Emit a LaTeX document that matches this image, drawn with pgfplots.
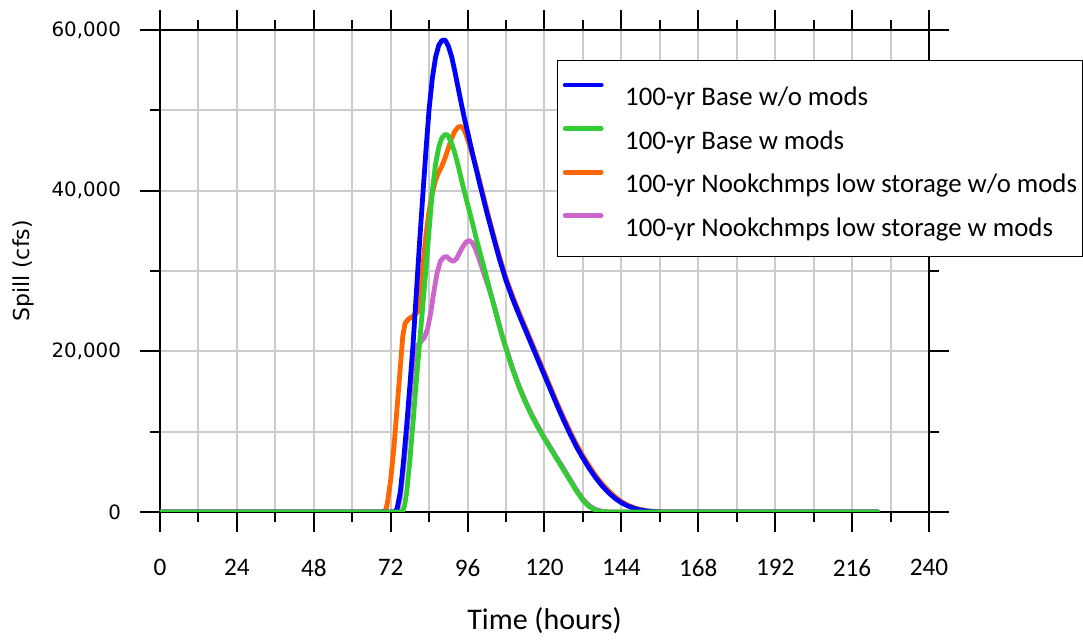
\documentclass[border=0pt]{standalone}
\usepackage{pgfplots}
\pgfplotsset{compat=1.18}
\usepackage{fontspec}
\setmainfont{Carlito}
\newfontfamily\dejavu{DejaVu Sans}
\definecolor{cblue}{RGB}{0,0,255}
\definecolor{cgreen}{RGB}{50,205,50}
\definecolor{corange}{RGB}{255,102,0}
\definecolor{cpurple}{RGB}{204,102,204}
\definecolor{cgrid}{RGB}{204,204,204}
\begin{document}
\begin{tikzpicture}
\begin{axis}[
  at={(0pt,0pt)}, anchor=south west,
  scale only axis, width=384.5pt, height=241pt,
  xmin=0, xmax=240, ymin=0, ymax=60000,
  xtick={0,24,...,240}, minor xtick={12,36,...,228},
  ytick={0,20000,40000,60000}, minor ytick={10000,30000,50000},
  grid=both, grid style={cgrid, line width=1pt}, minor grid style={cgrid, line width=1pt},
  tick align=outside, major tick length=10pt, minor tick length=5pt,
  tick style={black, line width=1pt},
  axis line style={black, line width=1pt},
  scaled y ticks=false,
  /pgf/number format/assume math mode=true,
  xticklabel style={font=\fontsize{12.6}{14}\selectfont, yshift=-10pt},
  yticklabel style={font=\dejavu\fontsize{9.9}{12}\selectfont, /pgf/number format/1000 sep={,}, xshift=-6pt},
  xlabel={Time (hours)},
  xlabel style={font=\fontsize{15}{17}\selectfont, at={(axis description cs:0.5,-0.226)}, anchor=center},
  ylabel={Spill (cfs)},
  ylabel style={font=\dejavu\fontsize{11}{13}\selectfont, at={(axis description cs:-0.178,0.5)}, anchor=center},
  legend style={at={(axis description cs:0.516,0.938)}, anchor=north west, draw=black, line width=0.6pt, fill=white,
    inner xsep=2.7pt, inner ysep=8pt, row sep=5.3pt, column sep=10.8pt,
    font=\fontsize{13.4}{15}\selectfont,
    nodes={inner sep=0pt, text height=14.5pt, text depth=2pt}},
  legend cell align=left,
  legend image code/.code={\draw[#1, line cap=round] (0pt,4pt) -- (18pt,4pt);},
  every axis plot/.append style={line width=2.4pt, line cap=round, line join=round},
]
\addlegendimage{cblue, line width=2.4pt}
\addlegendentry{100-yr Base w/o mods}
\addlegendimage{cgreen, line width=2.4pt}
\addlegendentry{100-yr Base w mods}
\addlegendimage{corange, line width=2.4pt}
\addlegendentry{100-yr Nookchmps low storage w/o mods}
\addlegendimage{cpurple, line width=2.4pt}
\addlegendentry{100-yr Nookchmps low storage w mods}

% Nookchmps low storage w/o mods
\addplot[corange, forget plot] coordinates {(0,0)(69.5,0)(70.5,300)(71,1200)(72,4000)(73,8000)(74,13000)(75,18000)(75.8,22000)(76.5,23500)(77.5,24000)(79,24400)(80.5,24900)(81.2,27000)(82,30500)(83,34500)(84,37500)(85,39700)(86,41300)(87,42300)(88,43100)(89,44100)(90,45300)(91,46500)(92,47400)(93,47900)(93.8,48000)(94.6,47800)(95.5,47000)(96.5,45800)(97.5,44500)(98.5,43200)(100,40800)(102,37600)(104,34600)(106,31700)(108,29100)(110,26900)(112,24900)(114,23000)(116,21100)(118,19200)(120,17300)(122,15400)(124,13500)(126,11700)(128,10000)(130,8400)(132,7000)(134,5700)(136,4500)(138,3500)(140,2650)(142,1900)(144,1300)(146,850)(148,530)(150,300)(152,150)(154,70)(156,25)(158,0)(224,0)};
% Nookchmps low storage w mods
\addplot[cpurple, forget plot] coordinates {(0,0)(73.5,0)(74.2,300)(75,1800)(76,5500)(77,9500)(78,14000)(79,18500)(79.8,20500)(81,21000)(82.5,21700)(83.5,22800)(84.5,24800)(85.5,27500)(86.5,29800)(87.5,31200)(88.5,31700)(89.5,31800)(90.5,31400)(91.5,31200)(92.5,31500)(93.5,32300)(94.5,33000)(95.5,33600)(96.5,33800)(97.5,33500)(98.5,32700)(99.5,31600)(100.5,30400)(101.5,29200)(102.5,28000)(103.5,26800)(104.5,25400)(105.5,23900)(106.5,22400)(107.5,21100)(108,20450)(110,17950)(112,15750)(114,13850)(116,12150)(118,10650)(120,9250)(122,7950)(124,6650)(126,5400)(128,4050)(130,2750)(132,1600)(134,780)(136,300)(138,80)(140,15)(142,0)(224,0)};
% Base w/o mods
\addplot[cblue, forget plot] coordinates {(0,0)(73.3,0)(74,400)(75,2500)(76,6300)(77,10800)(78,15800)(79,21000)(80,27200)(81,33500)(82,39300)(83,45000)(84,50200)(85,54000)(86,56600)(87,58100)(88,58700)(89,58750)(90,58000)(91,56700)(92,54900)(93,52900)(94,50900)(95,49000)(96,47300)(98,43800)(100,40500)(102,37300)(104,34300)(106,31400)(108,28800)(110,26600)(112,24600)(114,22700)(116,20800)(118,18900)(120,17000)(122,15100)(124,13200)(126,11400)(128,9700)(130,8100)(132,6700)(134,5400)(136,4250)(138,3250)(140,2400)(142,1700)(144,1150)(146,750)(148,450)(150,250)(152,120)(154,50)(156,10)(158,0)(224,0)};
% Base w mods
\addplot[cgreen, forget plot] coordinates {(0,0)(75,0)(75.7,100)(76.3,700)(77,2500)(78,6500)(79,11300)(80,16300)(81,21000)(82,25600)(83,30200)(84,35200)(85,40000)(86,43300)(87,45400)(88,46600)(89,47000)(89.8,46900)(91,45900)(92,44700)(93,43200)(94,41500)(95,39900)(96,38300)(97,36800)(98,35200)(99,33600)(100,32100)(101,30600)(102,29100)(103,27500)(104,26000)(105,24500)(106,23000)(107,21600)(108,20300)(110,17800)(112,15600)(114,13700)(116,12000)(118,10500)(120,9100)(122,7800)(124,6500)(126,5200)(128,3900)(130,2600)(132,1450)(134,650)(136,200)(138,40)(140,0)(224,0)};
\end{axis}
\pgfresetboundingbox
\path[use as bounding box] (-80pt,-64pt) rectangle (461.5pt,256pt);
\end{tikzpicture}
\end{document}
